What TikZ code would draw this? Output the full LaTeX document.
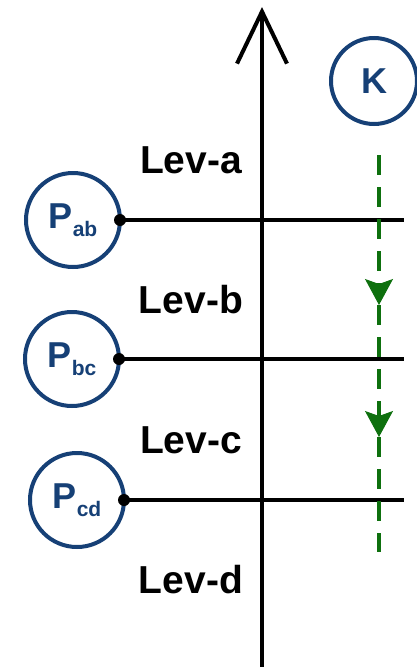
\documentclass[tikz,border=0pt]{standalone}
\usepackage{fontspec}
\setmainfont{Liberation Sans}
\usetikzlibrary{arrows.meta}

\definecolor{procblue}{RGB}{22,64,118}
\definecolor{flowgreen}{RGB}{14,112,14}

% process name with a lowered index
\newcommand{\procname}[1]{P\raisebox{-8pt}{\fontsize{21}{21}\selectfont #1}}

\begin{document}
\begin{tikzpicture}[
  x=1pt, y=-1pt,
  proc/.style={circle,draw=procblue,text=procblue,fill=white,line width=4pt,
    minimum size=94pt,inner sep=0pt,outer sep=0pt,
    font=\fontsize{36}{36}\selectfont\bfseries},
  lev/.style={font=\fontsize{39}{40}\selectfont\bfseries},
  level/.style={line width=4.5pt},
  axis/.style={line width=4pt,-{Straight Barb[length=52pt,width=50pt]}},
  flow/.style={draw=flowgreen,line width=4pt,dash pattern=on 20pt off 12pt,
    -{Stealth[length=26pt,width=28pt,inset=5pt,line width=1pt]}}
]
  \useasboundingbox (0,0) rectangle (416,667);

  % time axis
  \coordinate (axisbottom) at (262,667);
  \coordinate (axistop) at (262,7);
  \draw[axis] (axisbottom) -- (axistop);

  % levels
  \node[lev] (leva) at (191,160) {Lev-a};
  \node[lev] (levb) at (191,300) {Lev-b};
  \node[lev] (levc) at (191,440) {Lev-c};
  \node[lev] (levd) at (191,580) {Lev-d};

  % processes and their lines
  \coordinate (abend) at (404,220);
  \coordinate (bcend) at (404,359);
  \coordinate (cdend) at (404,500);
  \node[proc] (pab) at (73,220) {\procname{ab}};
  \node[proc] (pbc) at (72,359) {\procname{bc}};
  \node[proc] (pcd) at (77,500) {\procname{cd}};
  \draw[level] (pab.east) -- (abend);
  \draw[level] (pbc.east) -- (bcend);
  \draw[level] (pcd.east) -- (cdend);
  \fill (pab.east) circle[radius=6];
  \fill (pbc.east) circle[radius=6];
  \fill (pcd.east) circle[radius=6];

  % K going down through the levels
  \node[proc,minimum size=86pt,text depth=0pt] (k) at (374,81) {K};
  \coordinate (kstart) at (379,155);
  \coordinate (kdown1) at (379,305);
  \coordinate (kdown2) at (379,437);
  \coordinate (kend) at (379,552);
  \draw[flow] (kstart) -- (kdown1);
  \draw[flow] (kdown1) -- (kdown2);
  \draw[flow,-] (kdown2) -- (kend);
\end{tikzpicture}
\end{document}
